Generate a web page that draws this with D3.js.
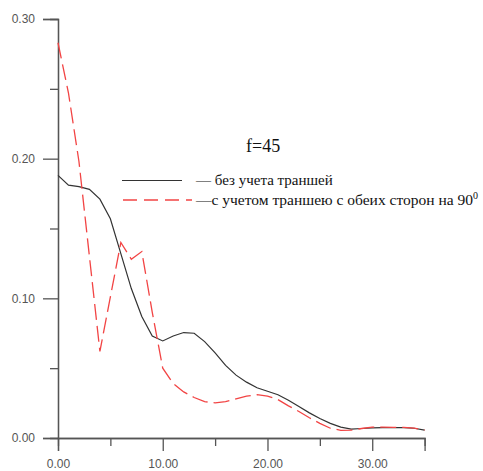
<!DOCTYPE html>
<html>
<head>
<meta charset="utf-8">
<script src="https://cdn.jsdelivr.net/npm/d3@7"></script>
<style>
  html, body { margin: 0; padding: 0; background: #fff; }
  svg { display: block; }
</style>
</head>
<body>
<svg id="chart" width="483" height="471"></svg>
<script>
// Distance along the profile (x) and the two computed curves
const xValues = [0,1,2,3,4,5,6,7,8,9,10,11,12,13,14,15,16,17,18,19,20,21,22,23,24,25,26,27,28,29,30,31,32,33,34,35];
const withoutTrench = [0.188,0.181,0.180,0.178,0.171,0.157,0.132,0.107,0.087,0.073,0.0695,0.073,0.0755,0.075,0.069,0.061,0.052,0.045,0.040,0.036,0.0335,0.031,0.027,0.0225,0.018,0.014,0.0105,0.0078,0.0064,0.0068,0.0073,0.0074,0.0074,0.0074,0.0070,0.0057];
const withTrench = [0.283,0.247,0.198,0.130,0.062,0.101,0.140,0.128,0.1335,0.090,0.050,0.039,0.033,0.029,0.026,0.0252,0.026,0.028,0.030,0.031,0.030,0.0275,0.023,0.019,0.0145,0.0105,0.007,0.0055,0.0057,0.0068,0.0078,0.0078,0.0076,0.0076,0.0070,0.0057];

const xMajorTicks = [0, 10, 20, 30];
const xMinorTicks = [5, 15, 25];
const yMajorTicks = [0, 0.10, 0.20, 0.30];
const yMinorTicks = [0.05, 0.15, 0.25];

const chartTitle = "f=45";
const legendLabels = ["— без учета траншей", "—с учетом траншею с обеих сторон на 90"];
const legendSup = "0";

const svg = d3.select("#chart");
const x = d3.scaleLinear().domain([0, 35]).range([58, 424.6]);
const y = d3.scaleLinear().domain([0, 0.30]).range([438, 19]);

const axisColor = "#555";
const labelFont = "'Liberation Sans', Arial, sans-serif";
const redColor = "#f24444";

// Y axis: major ticks with labels, minor ticks without
svg.append("g").attr("transform", `translate(${x(0)},0)`)
  .call(d3.axisLeft(y).tickValues(yMajorTicks).tickSize(15).tickPadding(8).tickFormat(d3.format(".2f")));
svg.append("g").attr("transform", `translate(${x(0)},0)`)
  .call(d3.axisLeft(y).tickValues(yMinorTicks).tickSize(8).tickFormat(""));

// X axis along y = 0
svg.append("g").attr("transform", `translate(0,${y(0)})`)
  .call(d3.axisBottom(x).tickValues(xMajorTicks).tickSize(13).tickPadding(8).tickFormat(d3.format(".2f")));
svg.append("g").attr("transform", `translate(0,${y(0)})`)
  .call(d3.axisBottom(x).tickValues(xMinorTicks).tickSize(8).tickFormat(""));

svg.selectAll(".domain").attr("stroke", axisColor).attr("stroke-width", 1.3);
svg.selectAll(".tick line").attr("stroke", axisColor).attr("stroke-width", 1.3);
svg.selectAll(".tick text")
  .attr("fill", "#555")
  .style("font-family", labelFont)
  .style("font-size", "12px");

// Curves
const line = d3.line()
  .x((d, i) => x(xValues[i]))
  .y(d => y(d));

svg.append("path")
  .datum(withoutTrench)
  .attr("fill", "none")
  .attr("stroke", "#333")
  .attr("stroke-width", 1.2)
  .attr("d", line);

svg.append("path")
  .datum(withTrench)
  .attr("fill", "none")
  .attr("stroke", redColor)
  .attr("stroke-width", 1.3)
  .attr("stroke-dasharray", "16,6")
  .attr("d", line);

// Title and legend
const serif = "'Liberation Serif', 'Times New Roman', serif";
svg.append("text")
  .attr("x", 246).attr("y", 152)
  .style("font-family", serif).style("font-size", "18px")
  .attr("fill", "#111")
  .text(chartTitle);

const legend = svg.append("g");
legend.append("line")
  .attr("x1", 122).attr("x2", 182).attr("y1", 180.5).attr("y2", 180.5)
  .attr("stroke", "#333").attr("stroke-width", 1.2);
legend.append("line")
  .attr("x1", 123).attr("x2", 192).attr("y1", 200).attr("y2", 200)
  .attr("stroke", redColor).attr("stroke-width", 1.3)
  .attr("stroke-dasharray", "14,7");

legend.append("text")
  .attr("x", 196).attr("y", 185)
  .style("font-family", serif).style("font-size", "15px")
  .attr("fill", "#111")
  .text(legendLabels[0]);

const t2 = legend.append("text")
  .attr("x", 196).attr("y", 204.5)
  .style("font-family", serif).style("font-size", "15.5px")
  .attr("fill", "#111");
t2.append("tspan").text(legendLabels[1]);
t2.append("tspan").attr("dy", -6).style("font-size", "10px").text(legendSup);
</script>
</body>
</html>
